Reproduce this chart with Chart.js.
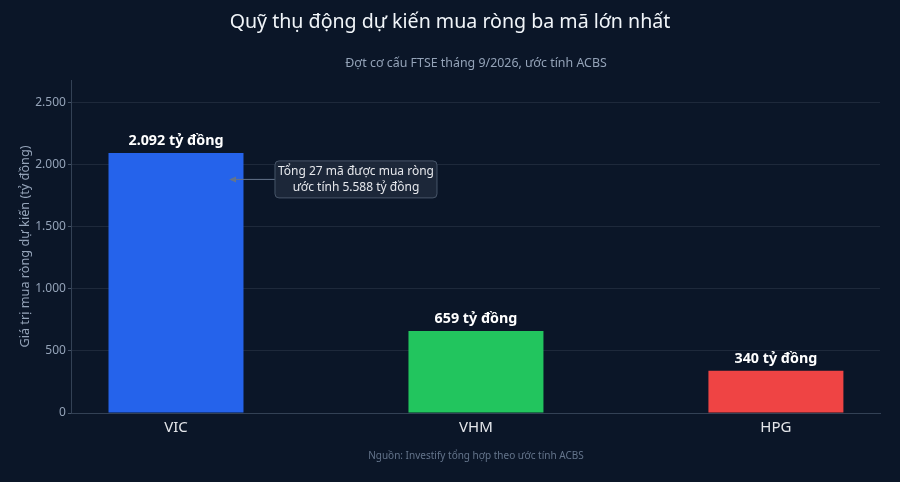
<!DOCTYPE html>
<html lang="vi">
<head>
<meta charset="utf-8">
<title>Quỹ thụ động dự kiến mua ròng</title>
<script src="https://cdn.jsdelivr.net/npm/chart.js@4.4.1/dist/chart.umd.min.js"></script>
<style>
  html, body { margin: 0; padding: 0; background: #0b1628; }
  #wrap { width: 900px; height: 482px; position: relative; }
</style>
</head>
<body>
<div id="wrap"><canvas id="chart" width="900" height="482"></canvas></div>
<script>
// ------------------------
// DATA
// ------------------------
const tickers = ['VIC', 'VHM', 'HPG'];
const netBuy = [2092, 659, 340]; // tỷ đồng
const barColors = ['#2563eb', '#22c55e', '#ef4444'];
const yTicks = [0, 500, 1000, 1500, 2000, 2500];
const noteLines = ['Tổng 27 mã được mua ròng', 'ước tính 5.588 tỷ đồng'];

const FONT = '"Noto Sans", "Open Sans", sans-serif';

// number format: 2092 -> 2.092
function fmt(v) {
    return v.toString().replace(/\B(?=(\d{3})+(?!\d))/g, '.');
}

// value labels above each bar
const valueLabels = {
    id: 'valueLabels',
    afterDatasetsDraw(chart) {
        const ctx = chart.ctx;
        const meta = chart.getDatasetMeta(0);
        ctx.save();
        ctx.fillStyle = '#ffffff';
        ctx.font = 'bold 14.3px ' + FONT;
        ctx.textAlign = 'center';
        ctx.textBaseline = 'bottom';
        meta.data.forEach((bar, i) => {
            ctx.fillText(fmt(netBuy[i]) + ' tỷ đồng', bar.x, bar.y - 5);
        });
        ctx.restore();
    }
};

// annotation box with arrow pointing to VIC bar
const noteBox = {
    id: 'noteBox',
    afterDatasetsDraw(chart) {
        const ctx = chart.ctx;
        const xs = chart.scales.x, ys = chart.scales.y;
        const tipX = xs.getPixelForValue(0.177);
        const tipY = ys.getPixelForValue(1880);
        const cx = xs.getPixelForValue(0.6);
        const cy = tipY;
        const w = 162, h = 37;
        const left = cx - w / 2, top = cy - h / 2;

        ctx.save();
        // arrow
        ctx.strokeStyle = '#64748b';
        ctx.fillStyle = '#64748b';
        ctx.lineWidth = 1;
        ctx.beginPath();
        ctx.moveTo(left, cy);
        ctx.lineTo(tipX + 4, cy);
        ctx.stroke();
        ctx.beginPath();
        ctx.moveTo(tipX, cy);
        ctx.lineTo(tipX + 7, cy - 3);
        ctx.lineTo(tipX + 7, cy + 3);
        ctx.closePath();
        ctx.fill();

        // box
        ctx.beginPath();
        ctx.roundRect(left, top, w, h, 4);
        ctx.fillStyle = 'rgba(30, 41, 59, 0.9)';
        ctx.fill();
        ctx.strokeStyle = '#475569';
        ctx.stroke();

        ctx.fillStyle = '#e5e7eb';
        ctx.font = '12px ' + FONT;
        ctx.textAlign = 'center';
        ctx.textBaseline = 'middle';
        ctx.fillText(noteLines[0], cx, cy - 8);
        ctx.fillText(noteLines[1], cx, cy + 8);
        ctx.restore();
    }
};

// background, title, subtitle, footer
const frame = {
    id: 'frame',
    beforeDraw(chart) {
        const ctx = chart.ctx;
        ctx.save();
        ctx.fillStyle = '#0b1628';
        ctx.fillRect(0, 0, chart.width, chart.height);
        ctx.restore();
    },
    afterDraw(chart) {
        const ctx = chart.ctx;
        const area = chart.chartArea;
        const mid = (area.left + area.right) / 2;
        ctx.save();
        ctx.textAlign = 'center';
        ctx.textBaseline = 'middle';
        ctx.fillStyle = '#f1f5f9';
        ctx.font = '19.6px ' + FONT;
        ctx.fillText('Quỹ thụ động dự kiến mua ròng ba mã lớn nhất', 450, 22);
        ctx.fillStyle = '#94a3b8';
        ctx.font = '12.4px ' + FONT;
        ctx.fillText('Đợt cơ cấu FTSE tháng 9/2026, ước tính ACBS', mid, 63);
        ctx.fillStyle = '#64748b';
        ctx.font = '10px ' + FONT;
        ctx.fillText('Nguồn: Investify tổng hợp theo ước tính ACBS', mid, 456);
        ctx.restore();
    }
};

new Chart(document.getElementById('chart').getContext('2d'), {
    type: 'bar',
    data: {
        datasets: [{
            data: netBuy.map((v, i) => ({ x: i, y: v })),
            backgroundColor: barColors,
            borderWidth: 0,
            categoryPercentage: 1,
            barPercentage: 0.45
        }]
    },
    options: {
        responsive: false,
        animation: false,
        layout: { padding: { top: 80, right: 20, bottom: 43, left: 18 } },
        plugins: {
            legend: { display: false },
            tooltip: { enabled: false }
        },
        scales: {
            x: {
                type: 'linear',
                offset: false,
                min: -0.347,
                max: 2.347,
                afterBuildTicks: (axis) => { axis.ticks = tickers.map((t, i) => ({ value: i })); },
                ticks: {
                    callback: (v) => tickers[v] || '',
                    color: '#e5e7eb',
                    font: { family: FONT, size: 15 },
                    padding: 2
                },
                grid: { display: false, drawTicks: true, tickLength: 4, tickColor: '#64748b' },
                border: { color: '#334155' }
            },
            y: {
                min: 0,
                max: 2680,
                afterBuildTicks: (axis) => { axis.ticks = yTicks.map(v => ({ value: v })); },
                ticks: {
                    callback: (v) => fmt(v),
                    color: '#94a3b8',
                    font: { family: FONT, size: 12 },
                    padding: 2
                },
                grid: { color: '#1e293b', tickLength: 4, tickColor: '#475569' },
                border: { color: '#334155' },
                title: {
                    display: true,
                    text: 'Giá trị mua ròng dự kiến (tỷ đồng)',
                    color: '#94a3b8',
                    font: { family: FONT, size: 12.7 },
                    padding: { top: 0, bottom: 0 }
                }
            }
        }
    },
    plugins: [frame, valueLabels, noteBox]
});
</script>
</body>
</html>
